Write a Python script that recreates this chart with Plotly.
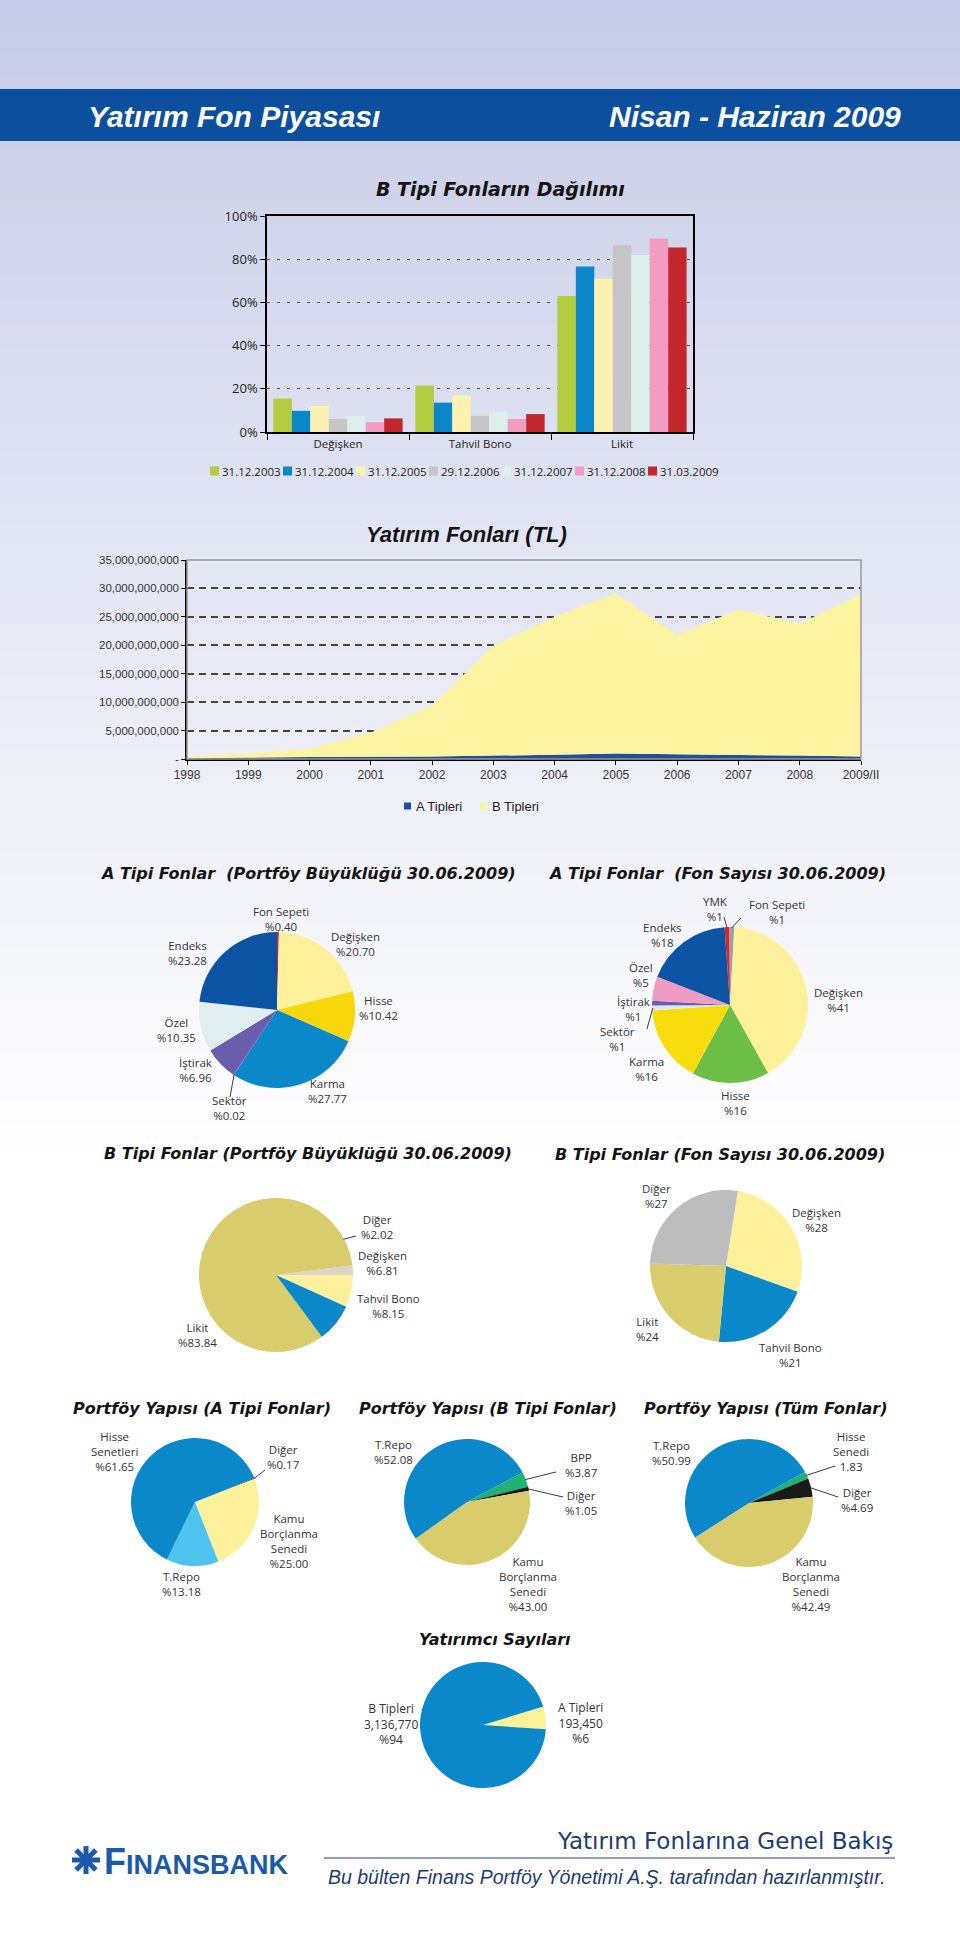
import math
import plotly.graph_objects as go

W, H = 960, 1956

# ====================== DATA ======================
bar_categories = ["Değişken", "Tahvil Bono", "Likit"]
bar_series = ["31.12.2003", "31.12.2004", "31.12.2005", "29.12.2006",
              "31.12.2007", "31.12.2008", "31.03.2009"]
share_2003 = [15.5, 21.5, 63.0]
share_2004 = [9.8, 13.6, 76.6]
share_2005 = [12.0, 17.0, 71.0]
share_2006 = [6.0, 7.5, 86.5]
share_2007 = [7.3, 9.5, 82.0]
share_2008 = [4.5, 6.0, 89.5]
share_2009 = [6.3, 8.3, 85.4]
bar_tick_values = [0, 20, 40, 60, 80, 100]
bar_tick_labels = ["0%", "20%", "40%", "60%", "80%", "100%"]

fund_years = ["1998", "1999", "2000", "2001", "2002", "2003", "2004",
              "2005", "2006", "2007", "2008", "2009/II"]
a_tipleri_tl = [0.10e9, 0.25e9, 0.35e9, 0.38e9, 0.42e9, 0.60e9,
                0.75e9, 0.95e9, 0.85e9, 0.70e9, 0.62e9, 0.45e9]
b_tipleri_tl = [0.30e9, 0.75e9, 1.45e9, 4.30e9, 9.00e9, 19.30e9,
                24.25e9, 28.15e9, 20.95e9, 25.60e9, 23.20e9, 28.55e9]
fund_tick_values = [0, 5e9, 10e9, 15e9, 20e9, 25e9, 30e9, 35e9]
fund_tick_labels = ["-", "5,000,000,000", "10,000,000,000", "15,000,000,000",
                    "20,000,000,000", "25,000,000,000", "30,000,000,000",
                    "35,000,000,000"]

a_size_labels = ["Fon Sepeti", "Değişken", "Hisse", "Karma", "Sektör",
                 "İştirak", "Özel", "Endeks"]
a_size_values = [0.40, 20.70, 10.42, 27.77, 0.02, 6.96, 10.35, 23.28]

a_count_labels = ["YMK", "Fon Sepeti", "Değişken", "Hisse", "Karma",
                  "Sektör", "İştirak", "Özel", "Endeks"]
a_count_values = [1, 1, 41, 16, 16, 1, 1, 5, 18]

b_size_labels = ["Değişken", "Diğer", "Likit", "Tahvil Bono"]
b_size_values = [6.81, 2.02, 83.84, 8.15]

b_count_labels = ["Değişken", "Tahvil Bono", "Likit", "Diğer"]
b_count_values = [28, 21, 24, 27]

pf_a_labels = ["Diğer", "Kamu Borçlanma Senedi", "T.Repo", "Hisse Senetleri"]
pf_a_values = [0.17, 25.00, 13.18, 61.65]

pf_b_labels = ["BPP", "Diğer", "Kamu Borçlanma Senedi", "T.Repo"]
pf_b_values = [3.87, 1.05, 43.00, 52.08]

pf_all_labels = ["Hisse Senedi", "Diğer", "Kamu Borçlanma Senedi", "T.Repo"]
pf_all_values = [1.83, 4.69, 42.49, 50.99]
pf_all_prefix = ["", "%", "%", "%"]

investor_labels = ["A Tipleri", "B Tipleri"]
investor_counts = [193450, 3136770]

# ====================== STYLE / LAYOUT HELPERS ======================
bar_colors = ["#b3cd3f", "#0b87c9", "#fcf1b1", "#c6c6c6",
              "#dcefec", "#f39cc2", "#c1272d"]
A_COLOR, B_COLOR = "#1f4f9d", "#fcf4a0"
LABEL_COLOR = "#333333"
TITLE_FONT = "DejaVu Sans"
BODY_FONT = "Open Sans"
SANS = "Liberation Sans"
LOGO_BLUE = "#1a5aa9"
MULTILINE = {"Hisse Senetleri", "Kamu Borçlanma Senedi", "Hisse Senedi"}


def P(x, y):
    return x / W, 1 - y / H


annotations = []
shapes = []


def text_ann(x, y, text, size, family, color, xanchor="center",
             weight="normal", style="normal"):
    px, py = P(x, y)
    return dict(x=px, y=py, xref="paper", yref="paper", text=text,
                showarrow=False, xanchor=xanchor, yanchor="middle",
                font=dict(family=family, size=size, color=color,
                          weight=weight, style=style))


def add_label(lines, cx, cy, size=11.5, family=BODY_FONT, color=LABEL_COLOR):
    annotations.append(text_ann(cx, cy, "<br>".join(lines), size, family, color))


def line_shape(x0, y0, x1, y1, color="#333333", width=1):
    a0, b0 = P(x0, y0)
    a1, b1 = P(x1, y1)
    return dict(type="line", xref="paper", yref="paper", x0=a0, y0=b0,
                x1=a1, y1=b1, line=dict(color=color, width=width))


def rect_shape(x0, y0, x1, y1, color, layer="above"):
    a0, b0 = P(x0, y0)
    a1, b1 = P(x1, y1)
    return dict(type="rect", xref="paper", yref="paper", x0=a0, x1=a1,
                y0=b1, y1=b0, fillcolor=color, line=dict(width=0), layer=layer)


def title(x, y, text, size=16):
    annotations.append(text_ann(x, y, text, size, TITLE_FONT, "#141414",
                                weight="bold", style="italic"))


# ---------- background gradient ----------
N = 46
top = (196, 202, 230)
for i in range(N):
    y0 = i * 1150 / N
    y1 = (i + 1) * 1150 / N + 1
    t = ((i + 0.5) / N) ** 0.9
    c = tuple(int(round(tc + (255 - tc) * t)) for tc in top)
    shapes.append(rect_shape(0, y0, W, y1, "rgb(%d,%d,%d)" % c, layer="below"))

# ---------- header band ----------
shapes.append(rect_shape(0, 89, W, 141, "#0b4f9e", layer="below"))
annotations.append(text_ann(86, 116, "Yatırım Fon Piyasası", 30, SANS,
                            "white", xanchor="left", weight="bold", style="italic"))
annotations.append(text_ann(903, 116, "Nisan - Haziran 2009", 30, SANS,
                            "white", xanchor="right", weight="bold", style="italic"))

fig = go.Figure()

# ====================== BAR CHART ======================
bar_values = [share_2003, share_2004, share_2005, share_2006,
              share_2007, share_2008, share_2009]
for name, vals, col in zip(bar_series, bar_values, bar_colors):
    fig.add_trace(go.Bar(x=bar_categories, y=vals, name=name,
                         marker=dict(color=col, line=dict(width=0)),
                         xaxis="x", yaxis="y", showlegend=False))

title(500, 189, "B Tipi Fonların Dağılımı", 19)

leg_x0, pitch, leg_y = 210, 73, 471
for i, (name, col) in enumerate(zip(bar_series, bar_colors)):
    sx = leg_x0 + i * pitch
    shapes.append(rect_shape(sx, leg_y - 4.5, sx + 9, leg_y + 4.5, col))
    annotations.append(text_ann(sx + 10, leg_y, name, 11.5, BODY_FONT, "#222222",
                                xanchor="left"))

# ====================== AREA CHART ======================
fig.add_trace(go.Scatter(x=fund_years, y=a_tipleri_tl, name="A Tipleri",
                         stackgroup="funds", mode="none", fillcolor=A_COLOR,
                         xaxis="x2", yaxis="y2", showlegend=False))
fig.add_trace(go.Scatter(x=fund_years, y=b_tipleri_tl, name="B Tipleri",
                         stackgroup="funds", mode="none", fillcolor=B_COLOR,
                         xaxis="x2", yaxis="y2", showlegend=False))

annotations.append(text_ann(466, 535, "Yatırım Fonları (TL)", 22, SANS,
                            "#141414", weight="bold", style="italic"))
shapes.append(dict(type="rect", xref="x2 domain", yref="y2 domain", x0=0, x1=1,
                   y0=0, y1=1, line=dict(color="#9a9a9a", width=1.5),
                   layer="above"))
for (sx, name, col) in [(404, "A Tipleri", A_COLOR), (480, "B Tipleri", B_COLOR)]:
    shapes.append(rect_shape(sx, 806 - 3.5, sx + 7, 806 + 3.5, col))
    annotations.append(text_ann(sx + 10, 806, name, 13, SANS, "#222222",
                                xanchor="left"))

# ====================== PIES ======================
def two(v):
    return "%" + f"{v:.2f}"


def whole(v):
    return "%" + f"{v:d}"


pies = [
    dict(title=("A Tipi Fonlar  (Portföy Büyüklüğü 30.06.2009)", 308, 873),
         labels=a_size_labels, values=a_size_values,
         texts=[two(v) for v in a_size_values],
         center=(277, 1010), r=78, rotation=0, direction="clockwise",
         colors={"Fon Sepeti": "#c9283a", "Değişken": "#fdf29b", "Hisse": "#f9d80b",
                 "Karma": "#0a88c9", "Sektör": "#8a8a8a", "İştirak": "#6a5dac",
                 "Özel": "#e1eef0", "Endeks": "#0b54a3"},
         pos={"Fon Sepeti": (281, 919), "Değişken": (355, 944), "Hisse": (378, 1008),
              "Karma": (327, 1091), "Sektör": (229, 1108), "İştirak": (195, 1070),
              "Özel": (176, 1030), "Endeks": (187, 953)},
         leaders=[("Sektör", 230, 1097)]),
    dict(title=("A Tipi Fonlar  (Fon Sayısı 30.06.2009)", 717, 874),
         labels=a_count_labels, values=a_count_values,
         texts=[whole(v) for v in a_count_values],
         center=(730, 1005), r=78, rotation=-4, direction="clockwise",
         colors={"YMK": "#e0222a", "Fon Sepeti": "#a0a0a0", "Değişken": "#fdf29b",
                 "Hisse": "#6dbe46", "Karma": "#f9dc0c", "Sektör": "#dbe9f2",
                 "İştirak": "#6a5dac", "Özel": "#ef9cc4", "Endeks": "#0b54a3"},
         pos={"YMK": (715, 909), "Fon Sepeti": (777, 912), "Endeks": (662, 935),
              "Özel": (641, 975), "İştirak": (633, 1009), "Sektör": (617, 1039),
              "Karma": (646, 1069), "Hisse": (735, 1103), "Değişken": (838, 1000)},
         leaders=[("YMK", 724, 917), ("Fon Sepeti", 741, 918), ("Sektör", 647, 1029)]),
    dict(title=("B Tipi Fonlar (Portföy Büyüklüğü 30.06.2009)", 308, 1153),
         labels=b_size_labels, values=b_size_values,
         texts=[two(v) for v in b_size_values],
         center=(276, 1275), r=77, rotation=90, direction="counterclockwise",
         colors={"Değişken": "#fdf29b", "Diğer": "#dcd3cb", "Likit": "#d8cc6c",
                 "Tahvil Bono": "#0a88c9"},
         pos={"Diğer": (377, 1227), "Değişken": (382, 1263),
              "Tahvil Bono": (388, 1306), "Likit": (197, 1335)},
         leaders=[("Diğer", 356, 1236)]),
    dict(title=("B Tipi Fonlar (Fon Sayısı 30.06.2009)", 720, 1154),
         labels=b_count_labels, values=b_count_values,
         texts=[whole(v) for v in b_count_values],
         center=(726, 1266), r=76, rotation=9, direction="clockwise",
         colors={"Değişken": "#fdf29b", "Tahvil Bono": "#0a88c9", "Likit": "#d8cc6c",
                 "Diğer": "#bdbdbd"},
         pos={"Diğer": (656, 1196), "Değişken": (816, 1220),
              "Tahvil Bono": (790, 1355), "Likit": (647, 1329)},
         leaders=[]),
    dict(title=("Portföy Yapısı (A Tipi Fonlar)", 202, 1408),
         labels=pf_a_labels, values=pf_a_values,
         texts=[two(v) for v in pf_a_values],
         center=(195, 1502), r=64, rotation=68, direction="clockwise",
         colors={"Diğer": "#1a1a1a", "Kamu Borçlanma Senedi": "#fdf29b",
                 "T.Repo": "#4dc3ee", "Hisse Senetleri": "#0a88c9"},
         pos={"Hisse Senetleri": (114, 1451), "Diğer": (283, 1457),
              "Kamu Borçlanma Senedi": (289, 1541), "T.Repo": (181, 1584)},
         leaders=[("Diğer", 265, 1470)]),
    dict(title=("Portföy Yapısı (B Tipi Fonlar)", 488, 1408),
         labels=pf_b_labels, values=pf_b_values,
         texts=[two(v) for v in pf_b_values],
         center=(467, 1502), r=63, rotation=62, direction="clockwise",
         colors={"BPP": "#1fb274", "Diğer": "#1a1a1a",
                 "Kamu Borçlanma Senedi": "#d8cc6c", "T.Repo": "#0a88c9"},
         pos={"T.Repo": (393, 1452), "BPP": (581, 1465), "Diğer": (581, 1503),
              "Kamu Borçlanma Senedi": (528, 1584)},
         leaders=[("BPP", 556, 1472), ("Diğer", 563, 1497)]),
    dict(title=("Portföy Yapısı (Tüm Fonlar)", 766, 1408),
         labels=pf_all_labels, values=pf_all_values,
         texts=[p + f"{v:.2f}" for p, v in zip(pf_all_prefix, pf_all_values)],
         center=(749, 1503), r=64, rotation=61, direction="clockwise",
         colors={"Hisse Senedi": "#1fb274", "Diğer": "#1a1a1a",
                 "Kamu Borçlanma Senedi": "#d8cc6c", "T.Repo": "#0a88c9"},
         pos={"T.Repo": (671, 1453), "Hisse Senedi": (851, 1451), "Diğer": (857, 1500),
              "Kamu Borçlanma Senedi": (811, 1584)},
         leaders=[("Hisse Senedi", 835, 1466), ("Diğer", 838, 1497)]),
]

for pc in pies:
    cx, cy = pc["center"]
    r = pc["r"]
    dom = dict(x=[(cx - r) / W, (cx + r) / W], y=[1 - (cy + r) / H, 1 - (cy - r) / H])
    fig.add_trace(go.Pie(labels=pc["labels"], values=pc["values"], domain=dom,
                         sort=False, direction=pc["direction"], rotation=pc["rotation"],
                         textinfo="none", hoverinfo="label+value",
                         marker=dict(colors=[pc["colors"][l] for l in pc["labels"]],
                                     line=dict(width=0)),
                         showlegend=False))
    t, tx, ty = pc["title"]
    title(tx, ty, t)
    for name, vt in zip(pc["labels"], pc["texts"]):
        px_, py_ = pc["pos"][name]
        lines = (name.split(" ") if name in MULTILINE else [name]) + [vt]
        add_label(lines, px_, py_)
    total = sum(pc["values"])
    sign = 1 if pc["direction"] == "clockwise" else -1
    for name, ex, ey in pc["leaders"]:
        idx = pc["labels"].index(name)
        mid = (sum(pc["values"][:idx]) + pc["values"][idx] / 2) / total * 360
        th = math.radians(pc["rotation"] + sign * mid)
        sx = cx + r * 0.99 * math.sin(th)
        sy = cy - r * 0.99 * math.cos(th)
        shapes.append(line_shape(sx, sy, ex, ey, "#3a3a3a", 1))

icx, icy, ir = 483, 1725, 63
fig.add_trace(go.Pie(labels=investor_labels, values=investor_counts,
                     domain=dict(x=[(icx - ir) / W, (icx + ir) / W],
                                 y=[1 - (icy + ir) / H, 1 - (icy - ir) / H]),
                     sort=False, direction="clockwise", rotation=73,
                     textinfo="none", hoverinfo="label+value",
                     marker=dict(colors=["#fbf29a", "#0a88c9"], line=dict(width=0)),
                     showlegend=False))
title(495, 1639, "Yatırımcı Sayıları")
inv_total = sum(investor_counts)
inv_pos = {"A Tipleri": (580, 1723), "B Tipleri": (391, 1724)}
for name, cnt in zip(investor_labels, investor_counts):
    pct = round(cnt / inv_total * 100)
    x, y = inv_pos[name]
    add_label([name, f"{cnt:,}", "%" + str(pct)], x, y, size=12)

# ---------- footer ----------
for ang in (0, 45, 90, 135):
    dx = 14 * math.cos(math.radians(ang))
    dy = 14 * math.sin(math.radians(ang))
    shapes.append(line_shape(86 - dx, 1860 - dy, 86 + dx, 1860 + dy, LOGO_BLUE, 5))
annotations.append(text_ann(102, 1861,
                            "<span style='font-size:36px'>F</span>INANSBANK",
                            27, SANS, LOGO_BLUE, xanchor="left", weight="bold"))
annotations.append(text_ann(895, 1841, "Yatırım Fonlarına Genel Bakış", 23,
                            "DejaVu Sans", "#1d3b73", xanchor="right"))
shapes.append(line_shape(324, 1858, 895, 1858, "#6d7fa3", 1.5))
annotations.append(text_ann(887, 1877,
                            "Bu bülten Finans Portföy Yönetimi A.Ş. tarafından hazırlanmıştır.",
                            19.5, SANS, "#1d3b73", xanchor="right", style="italic"))

# ====================== LAYOUT ======================
fig.update_layout(
    width=W, height=H, autosize=False,
    margin=dict(l=0, r=0, t=0, b=0, pad=0, autoexpand=False),
    paper_bgcolor="white", plot_bgcolor="rgba(0,0,0,0)",
    barmode="group", bargap=0.09, bargroupgap=0,
    showlegend=False,
    xaxis=dict(domain=[267 / W, 693 / W], anchor="y", showline=True, mirror=True,
               linecolor="black", linewidth=1.5, ticks="outside", tickson="boundaries",
               ticklen=6, tickcolor="black", showgrid=False, zeroline=False,
               automargin=False,
               tickfont=dict(family=BODY_FONT, size=11.5, color="#222222")),
    yaxis=dict(domain=[1 - 432 / H, 1 - 216 / H], anchor="x", range=[0, 100],
               tickvals=bar_tick_values, ticktext=bar_tick_labels,
               showline=True, mirror=True, automargin=False,
               linecolor="black", linewidth=1.5, ticks="outside", ticklen=5,
               tickcolor="black", showgrid=True, gridcolor="#555555",
               griddash="3px,7px", gridwidth=1, zeroline=False,
               tickfont=dict(family=BODY_FONT, size=13, color="#222222")),
    xaxis2=dict(domain=[187 / W, 861 / W], anchor="y2", type="category",
                range=[0, 11], showline=True, linecolor="black", linewidth=1.5,
                ticks="outside", ticklen=4, tickcolor="black", showgrid=False,
                zeroline=False, automargin=False,
                tickfont=dict(family=SANS, size=12, color="#333333")),
    yaxis2=dict(domain=[1 - 759 / H, 1 - 560 / H], anchor="x2", range=[0, 35e9],
                tickvals=fund_tick_values, ticktext=fund_tick_labels,
                showline=True, linecolor="black", linewidth=1.5, ticks="outside",
                ticklen=4, tickcolor="black", showgrid=True, gridcolor="#444444",
                griddash="7px,5px", gridwidth=1.5, zeroline=False, automargin=False,
                tickfont=dict(family=SANS, size=11.5, color="#333333")),
    annotations=annotations,
    shapes=shapes,
)

fig.write_html("out.html")
